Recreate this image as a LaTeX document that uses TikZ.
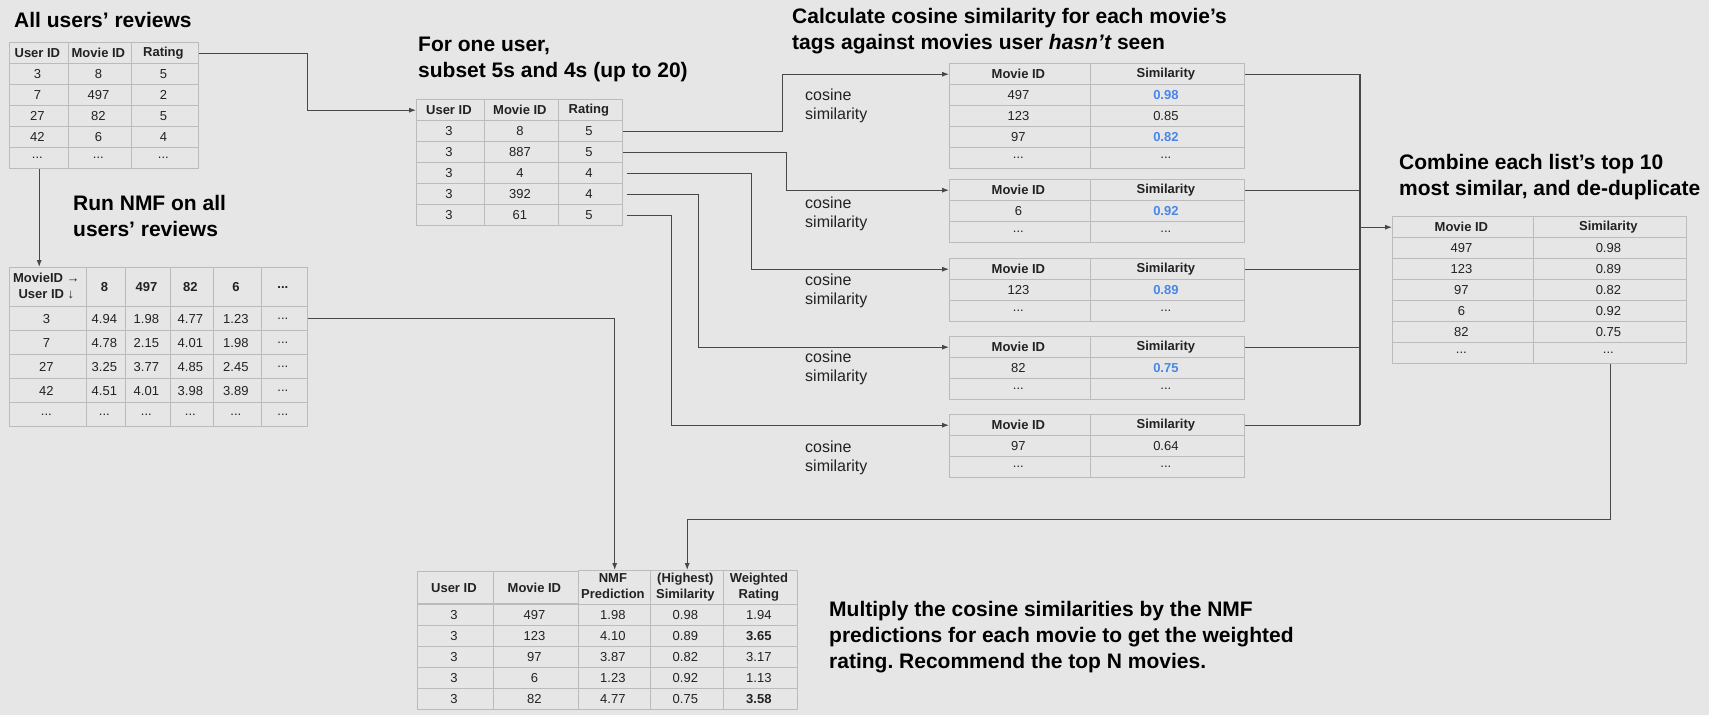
\documentclass[tikz,border=0pt]{standalone}
\usepackage{fontspec}
\setmainfont{Liberation Sans}
\usetikzlibrary{matrix,arrows.meta}
\definecolor{bgcol}{HTML}{E6E6E6}
\definecolor{gridcol}{HTML}{BBBBBB}
\definecolor{linecol}{HTML}{484848}
\definecolor{simblue}{HTML}{4A86E8}
\definecolor{celltxt}{HTML}{222222}
\newcommand{\cellfont}{\fontsize{13}{16}\selectfont}
\newcommand{\headfont}{\fontsize{21}{26}\selectfont\bfseries}
\newcommand{\labfont}{\fontsize{16}{19}\selectfont}
\newcommand{\stackcell}[2]{\begin{tabular}{@{}c@{}}#1\\#2\end{tabular}}
\frenchspacing
\tikzset{
  tbl/.style={matrix of nodes,anchor=north west,inner sep=0pt,column sep=-1pt,row sep=-1pt,
    nodes={draw=gridcol,line width=1pt,inner sep=1pt,minimum height=21pt,anchor=center,
      align=center,font=\cellfont,text=celltxt},
    row 1/.style={nodes={font=\cellfont\bfseries}}},
  simtbl/.style={tbl,column 1/.style={nodes={minimum width=141pt}},
    column 2/.style={nodes={minimum width=154pt}}},
  hi/.style={text=simblue,font=\cellfont\bfseries},
  bold/.style={font=\cellfont\bfseries},
  title/.style={anchor=north west,inner sep=0pt,align=left,font=\headfont},
  lab/.style={anchor=west,inner sep=0pt,align=left,font=\labfont,text=celltxt},
  flow/.style={draw=linecol,line width=1.3pt}
}
\begin{document}
\begin{tikzpicture}[x=1pt,y=-1pt,>={Latex[length=7pt,width=5pt]}]
    \fill[bgcol](0,0)rectangle(1709,715);

    \node[title](t1)at(14,12){All users’ reviews};
    \node[title](t2)at(418,37){For one user,\\subset 5s and 4s (up to 20)};
    \node[title](t3)at(792,8){Calculate cosine similarity for each movie’s\\tags against movies user {\itshape hasn’t} seen};
    \node[title](t4)at(73,195){Run NMF on all\\users’ reviews};
    \node[title](t5)at(1399,154){Combine each list’s top 10\\most similar, and de-duplicate};
    \node[title](t6)at(829,601){Multiply the cosine similarities by the NMF\\predictions for each movie to get the weighted\\rating. Recommend the top N movies.};

    \matrix[tbl,column 1/.style={nodes={minimum width=59pt}},column 2/.style={nodes={minimum width=63pt}},
        column 3/.style={nodes={minimum width=67pt}}](allrev)at(9,42){
        User ID & Movie ID & Rating \\
        3 & 8 & 5 \\
        7 & 497 & 2 \\
        27 & 82 & 5 \\
        42 & 6 & 4 \\
        ... & ... & ... \\
    };
    \matrix[tbl,column 1/.style={nodes={minimum width=68pt}},column 2/.style={nodes={minimum width=74pt}},
        column 3/.style={nodes={minimum width=64pt}}](oneuser)at(416,99){
        User ID & Movie ID & Rating \\
        3 & 8 & 5 \\
        3 & 887 & 5 \\
        3 & 4 & 4 \\
        3 & 392 & 4 \\
        3 & 61 & 5 \\
    };
    \matrix[tbl,nodes={minimum height=24pt},row 1/.append style={nodes={minimum height=39pt}},
        column 1/.style={nodes={minimum width=77pt}},column 2/.style={nodes={minimum width=39pt}},
        column 3/.style={nodes={minimum width=45pt}},column 4/.style={nodes={minimum width=43pt}},
        column 5/.style={nodes={minimum width=48pt}},column 6/.style={nodes={minimum width=46pt}}](nmf)at(9,267){
        \stackcell{MovieID →}{User ID ↓} & 8 & 497 & 82 & 6 & ... \\
        3 & 4.94 & 1.98 & 4.77 & 1.23 & ... \\
        7 & 4.78 & 2.15 & 4.01 & 1.98 & ... \\
        27 & 3.25 & 3.77 & 4.85 & 2.45 & ... \\
        42 & 4.51 & 4.01 & 3.98 & 3.89 & ... \\
        ... & ... & ... & ... & ... & ... \\
    };

    \matrix[simtbl](simA)at(949,63){
        Movie ID & Similarity \\
        497 & |[hi]| 0.98 \\
        123 & 0.85 \\
        97 & |[hi]| 0.82 \\
        ... & ... \\
    };
    \matrix[simtbl](simB)at(949,179){
        Movie ID & Similarity \\
        6 & |[hi]| 0.92 \\
        ... & ... \\
    };
    \matrix[simtbl](simC)at(949,258){
        Movie ID & Similarity \\
        123 & |[hi]| 0.89 \\
        ... & ... \\
    };
    \matrix[simtbl](simD)at(949,336){
        Movie ID & Similarity \\
        82 & |[hi]| 0.75 \\
        ... & ... \\
    };
    \matrix[simtbl](simE)at(949,414){
        Movie ID & Similarity \\
        97 & 0.64 \\
        ... & ... \\
    };
    \matrix[simtbl,column 2/.style={nodes={minimum width=153pt}}](comb)at(1392,216){
        Movie ID & Similarity \\
        497 & 0.98 \\
        123 & 0.89 \\
        97 & 0.82 \\
        6 & 0.92 \\
        82 & 0.75 \\
        ... & ... \\
    };
    \matrix[tbl,row 1/.append style={nodes={minimum height=32pt}},
        column 1/.style={nodes={minimum width=76pt}},column 2/.style={nodes={minimum width=85pt}},
        column 3/.style={nodes={minimum width=72pt}},column 4/.style={nodes={minimum width=73pt}},
        column 5/.style={nodes={minimum width=74pt}}](final)at(417,570){
        User ID & Movie ID & \stackcell{NMF}{Prediction} & \stackcell{(Highest)}{Similarity} & \stackcell{Weighted}{Rating} \\
        3 & 497 & 1.98 & 0.98 & 1.94 \\
        3 & 123 & 4.10 & 0.89 & |[bold]| 3.65 \\
        3 & 97 & 3.87 & 0.82 & 3.17 \\
        3 & 6 & 1.23 & 0.92 & 1.13 \\
        3 & 82 & 4.77 & 0.75 & |[bold]| 3.58 \\
    };

    \node[lab](cosA)at(805,106){cosine\\similarity};
    \node[lab](cosB)at(805,213.5){cosine\\similarity};
    \node[lab](cosC)at(805,290.5){cosine\\similarity};
    \node[lab](cosD)at(805,368){cosine\\similarity};
    \node[lab](cosE)at(805,457.5){cosine\\similarity};

    \draw[flow,->](allrev-1-3.east)-|([xshift=-109pt]oneuser-1-1.west)--(oneuser-1-1.west);
    \draw[flow,->](allrev-6-1.south)--(allrev-6-1.south|-nmf-1-1.north);
    \draw[flow,->](oneuser-2-3.east)-|([xshift=-167pt]simA-1-1.west)--(simA-1-1.west);
    \draw[flow,->](oneuser-3-3.east)-|([xshift=-163pt]simB-1-1.west)--(simB-1-1.west);
    \draw[flow,->]([xshift=4pt]oneuser-4-3.east)-|([xshift=-198pt]simC-1-1.west)--(simC-1-1.west);
    \draw[flow,->]([xshift=4pt]oneuser-5-3.east)-|([xshift=-251pt]simD-1-1.west)--(simD-1-1.west);
    \draw[flow,->]([xshift=4pt]oneuser-6-3.east)-|([xshift=-278pt]simE-1-1.west)--(simE-1-1.west);

    \coordinate(bus)at(1360,0);
    \foreach \s in {simA,simB,simC,simD,simE}
        \draw[flow](\s-1-2.east)--(\s-1-2.east-|bus);
    \draw[flow](simA-1-2.east-|bus)--(simE-1-2.east-|bus);
    \draw[flow,->](bus|-comb-1-1.west)--(comb-1-1.west);

    \draw[flow,->](nmf-2-6.east)-|(final-1-3.north);
    \draw[flow,->](comb-7-2.south)|-([yshift=51pt]final-1-4.north)--(final-1-4.north);
\end{tikzpicture}
\end{document}
